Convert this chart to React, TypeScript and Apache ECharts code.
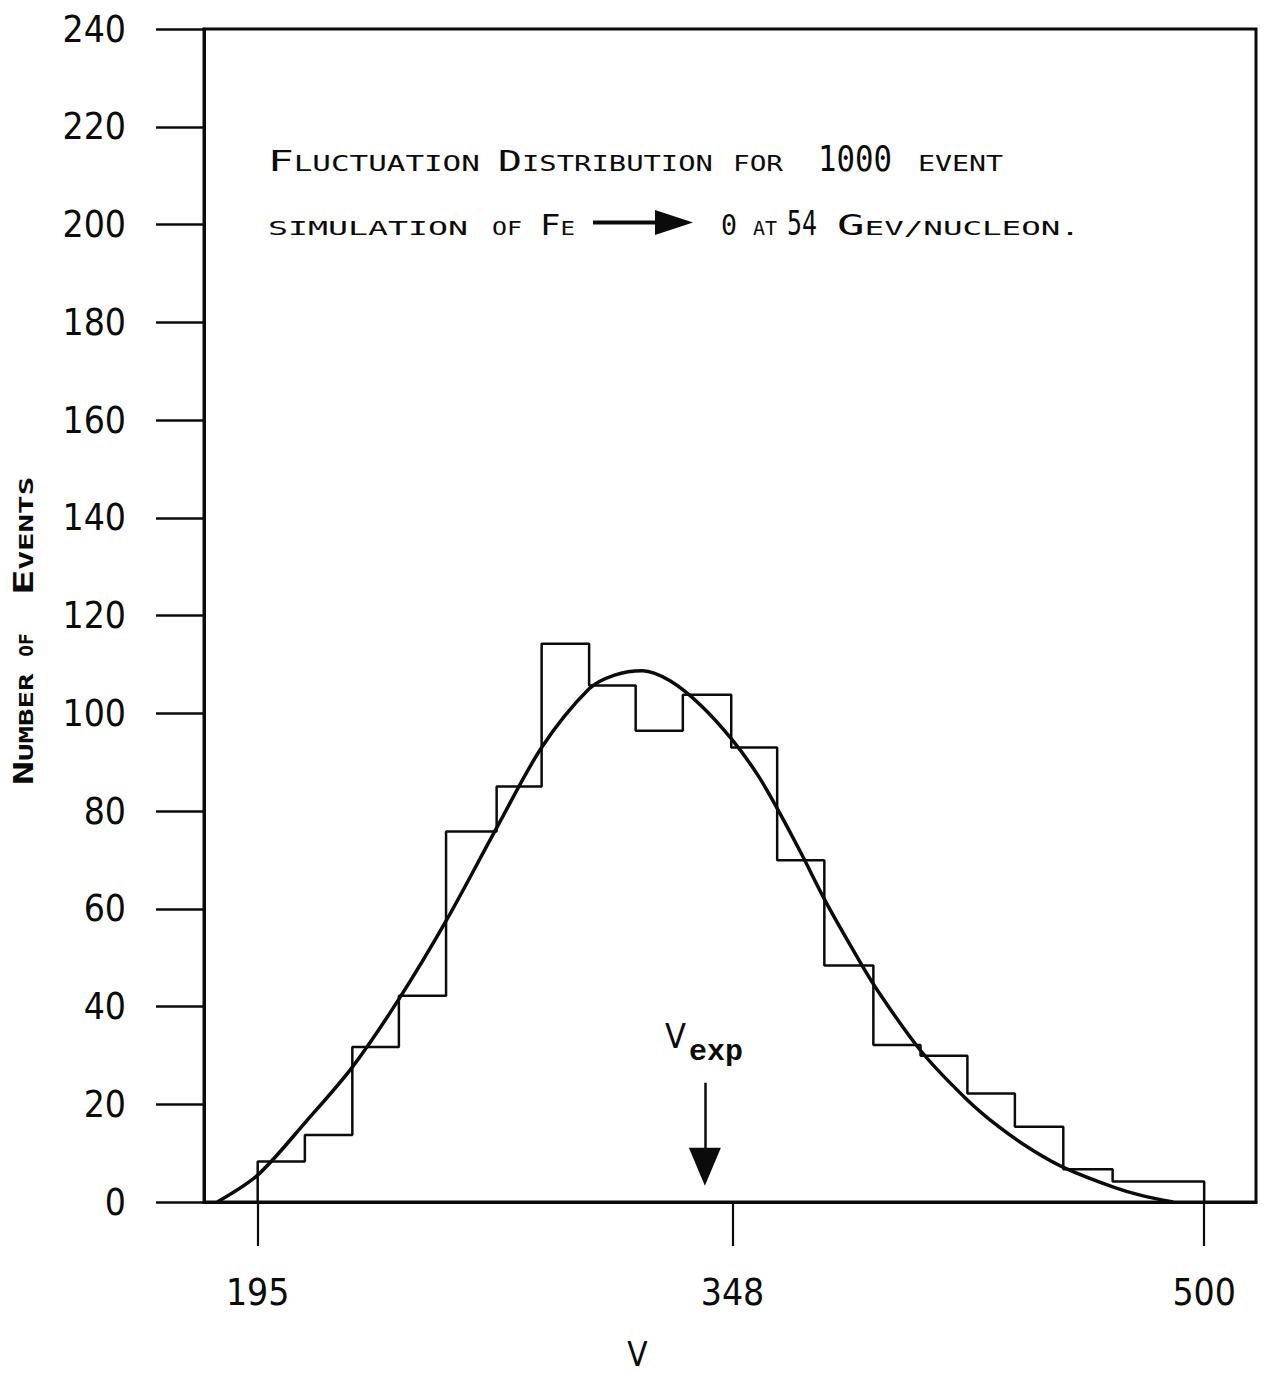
import React, { useEffect, useRef } from "react";
import * as echarts from "echarts";

// ---- data ----
const xTickValues = [195, 348, 500];
const binEdges = [195, 210.2, 225.5, 240.5, 255.7, 272, 286.5, 301.8, 316.8, 332, 347.6, 362.4, 377.6, 393.4, 408.6, 423.7, 439, 454.6, 470.5, 485, 500];
const binCounts = [8.3, 13.7, 31.7, 42.2, 75.8, 85, 114.2, 105.7, 96.4, 103.8, 93, 69.9, 48.4, 32.1, 29.9, 22.2, 15.4, 6.7, 4.2, 4.2];
const curveV = [182, 195, 210.5, 225.5, 240.5, 255.7, 272.4, 286.5, 301.8, 310, 319, 328, 338, 348, 356, 362, 370, 378, 386, 394, 408.6, 423, 434, 445, 455, 471, 480, 490];
const curveN = [0, 5.5, 16.4, 27.6, 41.5, 57.5, 77, 93, 105, 107.8, 108.7, 106.6, 101.5, 94.5, 87.5, 81, 71.5, 61.5, 52.5, 44, 31, 21.3, 15.3, 10.5, 7, 3, 1.3, 0];
const vExp = 339.1;
const vExpArrowTop = 24.4;
const vExpArrowHead = 7.2;

// ---- styling ----
const INK = "#0b0b0b";
const MONO = "'DejaVu Sans Mono', monospace";
const NARROW = "'Liberation Sans Narrow', 'DejaVu Sans Condensed', 'Liberation Sans', sans-serif";
const K_MONO = 0.346;
const K_NARROW = 0.3465;

type Tok = { t: string; s: number };

function word(x0: number, baseline: number, target: number, toks: Tok[], weight = "normal"): any[] {
  const nat = toks.reduce((a, t) => a + t.t.length * 0.602 * t.s, 0);
  const sc = target / nat;
  let cx = x0;
  return toks.map((t) => {
    const el = {
      type: "text",
      x: cx,
      y: baseline - K_MONO * t.s,
      scaleX: sc,
      silent: true,
      style: {
        text: t.t,
        fontFamily: MONO,
        fontSize: t.s,
        fontWeight: weight,
        fill: INK,
        textAlign: "left",
        textVerticalAlign: "middle",
      },
    };
    cx += t.t.length * 0.602 * t.s * sc;
    return el;
  });
}

export default function App() {
  const ref = useRef<HTMLDivElement>(null);

  useEffect(() => {
    if (!ref.current) return;
    const chart = echarts.init(ref.current, undefined, { renderer: "svg" });

    const histPts: number[][] = [[binEdges[0], 0]];
    binCounts.forEach((c, i) => {
      histPts.push([binEdges[i], c], [binEdges[i + 1], c]);
    });
    histPts.push([binEdges[binEdges.length - 1], 0]);
    const curvePts = curveV.map((v, i) => [v, curveN[i]]);

    // title lines
    const C1 = 29, S1 = 21, D1 = 36;
    const C2 = 27.5, S2 = 19.5, D2 = 34;
    const b1 = 171, b2 = 235;
    const titleEls: any[] = [
      ...word(268, b1, 212, [{ t: "F", s: C1 }, { t: "LUCTUATION", s: S1 }]),
      ...word(498, b1, 215, [{ t: "D", s: C1 }, { t: "ISTRIBUTION", s: S1 }]),
      ...word(733, b1, 50, [{ t: "FOR", s: S1 }]),
      ...word(818, b1, 74, [{ t: "1000", s: D1 }]),
      ...word(918, b1, 85, [{ t: "EVENT", s: S1 }]),
      ...word(268, b2, 200, [{ t: "SIMULATION", s: S2 }]),
      ...word(492, b2, 30, [{ t: "OF", s: S2 }]),
      ...word(540, b2, 35, [{ t: "F", s: C2 }, { t: "E", s: S2 }]),
      ...word(721, b2, 16, [{ t: "0", s: C2 }]),
      ...word(753, b2, 24, [{ t: "AT", s: S2 }]),
      ...word(787, b2, 30, [{ t: "54", s: D2 }]),
      ...word(837, b2, 243, [{ t: "G", s: C2 }, { t: "EV/NUCLEON.", s: S2 }]),
    ];

    const yTitle = {
      type: "group",
      x: 33,
      y: 785,
      rotation: Math.PI / 2,
      children: [
        ...word(0, 0, 111.7, [{ t: "N", s: 26 }, { t: "UMBER", s: 19 }], "bold"),
        ...word(128.3, 0, 23.4, [{ t: "OF", s: 19 }], "bold"),
        ...word(190, 0, 118.3, [{ t: "E", s: 26 }, { t: "VENTS", s: 19 }], "bold"),
      ],
    };

    const option: any = {
      animation: false,
      backgroundColor: "#ffffff",
      grid: {
        left: 204,
        top: 29,
        right: 10,
        bottom: 171,
        show: true,
        borderColor: INK,
        borderWidth: 3,
        backgroundColor: "transparent",
      },
      xAxis: {
        type: "value",
        min: 177.7,
        max: 516.7,
        axisLine: { show: true, onZero: false, lineStyle: { color: INK, width: 3 } },
        axisTick: {
          show: true,
          inside: false,
          length: 44,
          customValues: xTickValues,
          lineStyle: { color: INK, width: 2.2 },
        },
        axisLabel: {
          show: true,
          customValues: xTickValues,
          margin: 72,
          fontSize: 37,
          fontFamily: NARROW,
          color: INK,
        },
        splitLine: { show: false },
      },
      yAxis: {
        type: "value",
        min: 0,
        max: 240,
        interval: 20,
        axisLine: { show: true, lineStyle: { color: INK, width: 3 } },
        axisTick: { show: true, inside: false, length: 48, lineStyle: { color: INK, width: 2.5 } },
        axisLabel: { show: true, margin: 78, fontSize: 37, fontFamily: NARROW, color: INK },
        splitLine: { show: false },
      },
      series: [
        {
          name: "histogram",
          type: "line",
          data: histPts,
          symbol: "none",
          showSymbol: false,
          silent: true,
          lineStyle: { color: INK, width: 2.5 },
          markLine: {
            silent: true,
            animation: false,
            label: { show: false },
            lineStyle: { color: INK, width: 2.5, type: "solid" },
            data: [
              [
                { coord: [vExp, vExpArrowTop], symbol: "none" },
                { coord: [vExp, vExpArrowHead], symbol: "triangle", symbolSize: [32, 38] },
              ],
            ],
          },
        },
        {
          name: "fit",
          type: "line",
          data: curvePts,
          smooth: 0.3,
          symbol: "none",
          showSymbol: false,
          silent: true,
          lineStyle: { color: INK, width: 3.5 },
        },
      ],
      graphic: [
        ...titleEls,
        {
          type: "line",
          silent: true,
          shape: { x1: 593, y1: 222.5, x2: 662, y2: 222.5 },
          style: { stroke: INK, lineWidth: 4 },
        },
        {
          type: "polygon",
          silent: true,
          shape: { points: [[655, 210], [693, 222.5], [655, 235]] },
          style: { fill: INK },
        },
        yTitle,
        {
          type: "text",
          silent: true,
          x: 665,
          y: 1048 - K_NARROW * 34,
          style: {
            text: "V",
            fontFamily: NARROW,
            fontSize: 34,
            fill: INK,
            textAlign: "left",
            textVerticalAlign: "middle",
          },
        },
        {
          type: "text",
          silent: true,
          x: 689,
          y: 1060 - 0.2665 * 30,
          style: {
            text: "exp",
            fontFamily: "'Liberation Mono', 'DejaVu Sans Mono', monospace",
            fontSize: 30,
            fontWeight: "bold",
            fill: INK,
            textAlign: "left",
            textVerticalAlign: "middle",
          },
        },
        {
          type: "text",
          silent: true,
          x: 637.5,
          y: 1366 - K_NARROW * 33,
          style: {
            text: "V",
            fontFamily: NARROW,
            fontSize: 33,
            fill: INK,
            textAlign: "center",
            textVerticalAlign: "middle",
          },
        },
      ],
    };

    chart.setOption(option);
    return () => chart.dispose();
  }, []);

  return (
    <div
      ref={ref}
      style={{ position: "absolute", left: 0, top: 0, width: 1266, height: 1373, background: "#fff" }}
    />
  );
}
